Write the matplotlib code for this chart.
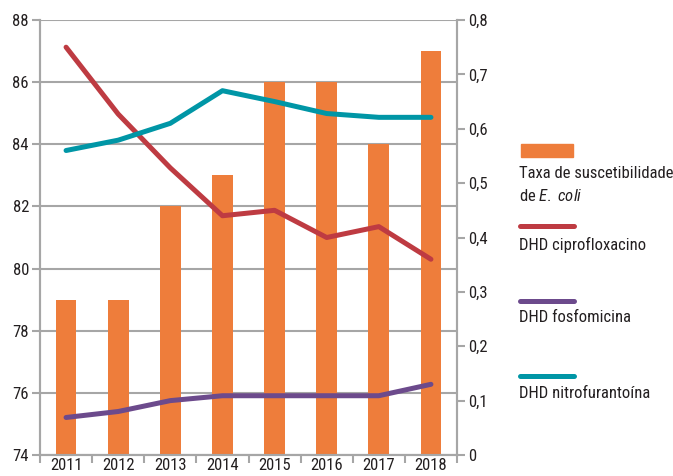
import matplotlib
matplotlib.use("Agg")
import matplotlib.pyplot as plt
from matplotlib import font_manager
from matplotlib.lines import Line2D
from matplotlib.patches import Rectangle
import numpy as np

years = ["2011", "2012", "2013", "2014", "2015", "2016", "2017", "2018"]
suscetibilidade = [79, 79, 82, 83, 86, 86, 84, 87]
cipro = [0.75, 0.627, 0.528, 0.44, 0.45, 0.40, 0.42, 0.36]
fosfo = [0.069, 0.08, 0.10, 0.109, 0.109, 0.109, 0.109, 0.13]
nitro = [0.56, 0.579, 0.61, 0.67, 0.65, 0.628, 0.621, 0.621]
left_ticks = [74, 76, 78, 80, 82, 84, 86, 88]
right_ticks = [0, 0.1, 0.2, 0.3, 0.4, 0.5, 0.6, 0.7, 0.8]
legend_labels = ["Taxa de suscetibilidade", "DHD ciprofloxacino",
                 "DHD fosfomicina", "DHD nitrofurantoína"]

avail = {f.name for f in font_manager.fontManager.ttflist}
fam = None
for cand in ["Liberation Sans Narrow", "DejaVu Sans Condensed", "Roboto Condensed", "Liberation Sans"]:
    if cand in avail:
        fam = cand
        break
plt.rcParams['font.family'] = [fam, 'DejaVu Sans']
plt.rcParams['mathtext.fontset'] = 'custom'
plt.rcParams['mathtext.it'] = fam + ':italic'
plt.rcParams['mathtext.rm'] = fam

ORANGE = "#EE7D3B"
RED = "#BE3B42"
PURPLE = "#6C4A8C"
TEAL = "#0096A6"
GRAY = "#A6A6A6"
TXT = "#231F20"

fig = plt.figure(figsize=(6.73, 4.76), dpi=100)
ax = fig.add_axes([40/673, 21/476, 417/673, 435/476])
x = np.arange(len(years))

ax.set_ylim(74, 88)
ax.set_xlim(-0.5, 7.5)
for t in left_ticks:
    ax.axhline(t, color=GRAY, lw=1.5, zorder=0)
ax.bar(x, [v - 74 for v in suscetibilidade], bottom=74, width=0.4, color=ORANGE, zorder=2)

ax.set_yticks(left_ticks)
ax.set_yticklabels([str(t) for t in left_ticks])
ax.set_xticks(x)
ax.set_xticklabels(years)
ax.set_xticks(np.arange(-0.5, 8.0, 1.0), minor=True)
ax.tick_params(axis='x', which='major', length=0, labelsize=12, colors=TXT, pad=2)
ax.tick_params(axis='x', which='minor', length=6, width=1.5, color=GRAY)
ax.tick_params(axis='y', length=6, width=1.5, color=GRAY, labelsize=12, labelcolor=TXT, pad=2)
ax.spines["top"].set_visible(False)
for s in ["left", "right", "bottom"]:
    ax.spines[s].set_color(GRAY)
    ax.spines[s].set_linewidth(1.5)

ax2 = ax.twinx()
ax2.set_ylim(0, 0.8)
ax2.set_yticks(right_ticks)
ax2.set_yticklabels(["0" if t == 0 else f"{t:.1f}".replace(".", ",") for t in right_ticks])
ax2.tick_params(axis='y', length=6, width=1.5, color=GRAY, labelsize=12, labelcolor=TXT, pad=2)
ax2.spines["top"].set_visible(False)
for s in ["left", "right", "bottom"]:
    ax2.spines[s].set_color(GRAY)
    ax2.spines[s].set_linewidth(1.5)

lw = 3.6
ax2.plot(x, cipro, color=RED, lw=lw, solid_capstyle='round', solid_joinstyle='round', zorder=3)
ax2.plot(x, fosfo, color=PURPLE, lw=lw, solid_capstyle='round', solid_joinstyle='round', zorder=3)
ax2.plot(x, nitro, color=TEAL, lw=lw, solid_capstyle='round', solid_joinstyle='round', zorder=3)

# legend (manual)
W, H = 673, 476
def fx(px): return px / W
def fy(py): return 1 - py / H
fig.patches.append(Rectangle((fx(521), fy(157)), fx(573) - fx(521), fy(144) - fy(157),
                             transform=fig.transFigure, color=ORANGE))
for yline, col in [(225.5, RED), (300.5, PURPLE), (375.5, TEAL)]:
    fig.lines.append(Line2D([fx(520), fx(574)], [fy(yline), fy(yline)], transform=fig.transFigure,
                            color=col, lw=lw, solid_capstyle='round'))
fs = 12
fig.text(fx(519), fy(173), legend_labels[0], fontsize=fs, color=TXT, va='center', ha='left')
fig.text(fx(519), fy(196), "de $\\it{E.}$ $\\it{coli}$", fontsize=fs, color=TXT, va='center', ha='left')
fig.text(fx(519), fy(245), legend_labels[1], fontsize=fs, color=TXT, va='center', ha='left')
fig.text(fx(519), fy(318), legend_labels[2], fontsize=fs, color=TXT, va='center', ha='left')
fig.text(fx(519), fy(394), legend_labels[3], fontsize=fs, color=TXT, va='center', ha='left')

fig.savefig("out.png", dpi=100)
